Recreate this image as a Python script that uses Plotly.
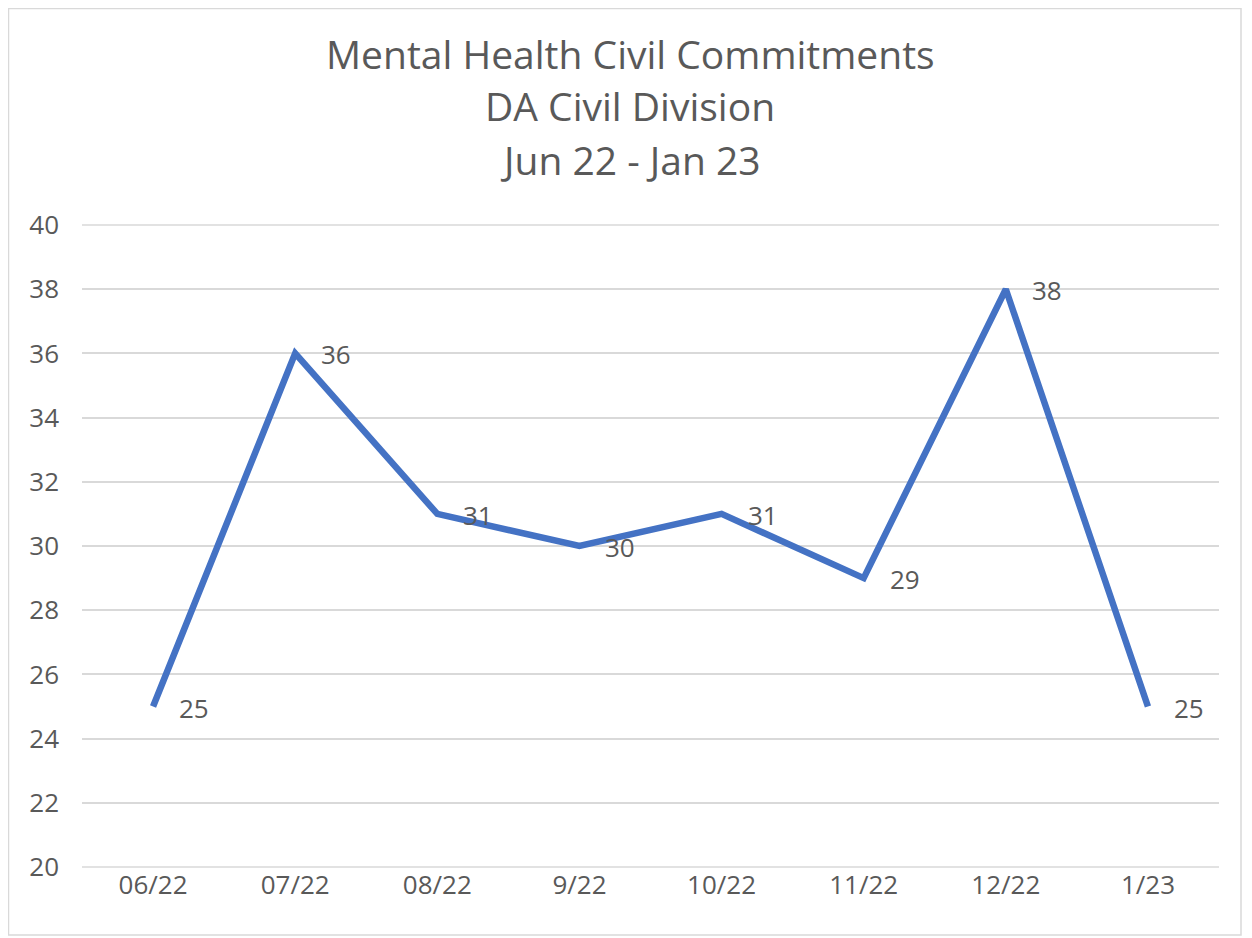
import plotly.graph_objects as go

months = ["06/22", "07/22", "08/22", "9/22", "10/22", "11/22", "12/22", "1/23"]
commitments = [25, 36, 31, 30, 31, 29, 38, 25]
title_lines = ["Mental Health Civil Commitments", "DA Civil Division", "Jun 22 - Jan 23"]
y_ticks = list(range(20, 41, 2))

# page is offset by the default 8px body margin
OFF = 8
W, H = 1252 - OFF, 938 - OFF
ML, MT = 82 - OFF, 225 - OFF
MR = W - (1219 - OFF)
MB = H - (867 - OFF)
pw, ph = W - ML - MR, H - MT - MB
FONT = "Open Sans"
GREY = "#595959"
GRID = "#D9D9D9"


def px2paper_x(p):
    return (p - OFF - ML) / pw


def px2paper_y(p):
    return (H - MB - (p - OFF)) / ph


fig = go.Figure()
fig.add_trace(go.Scatter(
    x=list(range(len(months))), y=commitments, mode="lines",
    line=dict(color="#4472C4", width=6.5), hoverinfo="skip", showlegend=False,
))

annotations = []
for i, v in enumerate(commitments):
    annotations.append(dict(x=i, y=v, xref="x", yref="y", text=str(v), showarrow=False,
                            xanchor="left", yanchor="middle", xshift=24, yshift=-1,
                            font=dict(family=FONT, size=26, color=GREY)))
for k, line in enumerate(title_lines):
    ypix = [54, 106, 159][k]
    annotations.append(dict(x=px2paper_x(630), y=px2paper_y(ypix), xref="paper", yref="paper",
                            text=line, showarrow=False, xanchor="center", yanchor="middle",
                            font=dict(family=FONT, size=39, color=GREY)))

shapes = [dict(type="rect", xref="paper", yref="paper",
               x0=px2paper_x(OFF + 0.5), x1=px2paper_x(1241), y0=px2paper_y(935), y1=px2paper_y(OFF + 0.5),
               line=dict(color=GRID, width=1.5), layer="below")]
# grid lines on the range edges (plotly drops those)
for yp in (0, 1):
    shapes.append(dict(type="line", xref="paper", yref="paper", x0=0, x1=1, y0=yp, y1=yp,
                       line=dict(color=GRID, width=1.5), layer="below"))

fig.update_layout(
    width=W, height=H,
    margin=dict(l=ML, r=MR, t=MT, b=MB),
    paper_bgcolor="white", plot_bgcolor="white",
    annotations=annotations,
    shapes=shapes,
    xaxis=dict(range=[-0.5, len(months) - 0.5], tickmode="array",
               tickvals=list(range(len(months))), ticktext=months,
               showgrid=False, zeroline=False, showline=False, ticks="",
               ticklabelstandoff=0,
               tickfont=dict(family=FONT, size=26, color=GREY)),
    yaxis=dict(range=[20, 40], tickmode="array", tickvals=y_ticks,
               showgrid=True, gridcolor=GRID, gridwidth=1.5,
               zeroline=False, showline=False, ticks="", ticklabelstandoff=22,
               tickfont=dict(family=FONT, size=26, color=GREY)),
)

fig.write_html("out.html")
